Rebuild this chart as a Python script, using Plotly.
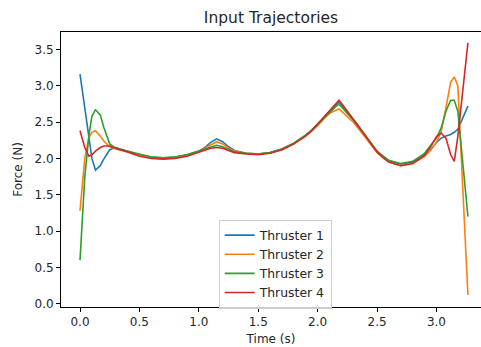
import plotly.graph_objects as go

time_s = [0.0, 0.04, 0.075, 0.1, 0.13, 0.17, 0.2, 0.25, 0.3, 0.35,
          0.4, 0.5, 0.6, 0.7, 0.8, 0.9, 1.0, 1.05, 1.1, 1.15,
          1.2, 1.25, 1.3, 1.4, 1.5, 1.6, 1.7, 1.8, 1.9, 1.95,
          2.0, 2.05, 2.1, 2.15, 2.18, 2.2, 2.25, 2.3, 2.4, 2.45,
          2.5, 2.55, 2.6, 2.7, 2.8, 2.9, 2.95, 3.0, 3.04, 3.08,
          3.12, 3.15, 3.18, 3.265]

thruster1 = [3.16, 2.72, 2.34, 2.0, 1.84, 1.90, 1.99, 2.12, 2.15, 2.13,
             2.10, 2.05, 2.02, 2.01, 2.02, 2.05, 2.10, 2.15, 2.22, 2.27,
             2.23, 2.16, 2.11, 2.07, 2.06, 2.08, 2.13, 2.21, 2.32, 2.39,
             2.47, 2.56, 2.65, 2.73, 2.78, 2.74, 2.64, 2.54, 2.32, 2.21,
             2.10, 2.03, 1.97, 1.92, 1.95, 2.05, 2.12, 2.22, 2.28, 2.31,
             2.33, 2.36, 2.40, 2.72]

thruster2 = [1.28, 2.00, 2.28, 2.36, 2.38, 2.31, 2.24, 2.16, 2.13, 2.11,
             2.09, 2.04, 2.01, 2.00, 2.01, 2.04, 2.09, 2.14, 2.19, 2.23,
             2.20, 2.14, 2.10, 2.07, 2.06, 2.08, 2.12, 2.20, 2.31, 2.38,
             2.45, 2.54, 2.62, 2.66, 2.68, 2.65, 2.58, 2.50, 2.29, 2.18,
             2.08, 2.01, 1.95, 1.90, 1.93, 2.03, 2.11, 2.22, 2.37, 2.70,
             3.05, 3.12, 3.00, 0.12]

thruster3 = [0.60, 1.74, 2.32, 2.58, 2.67, 2.60, 2.43, 2.20, 2.14, 2.12,
             2.10, 2.05, 2.02, 2.01, 2.02, 2.05, 2.10, 2.13, 2.16, 2.18,
             2.16, 2.12, 2.09, 2.07, 2.06, 2.08, 2.13, 2.21, 2.32, 2.39,
             2.47, 2.55, 2.64, 2.71, 2.75, 2.71, 2.62, 2.53, 2.31, 2.20,
             2.10, 2.03, 1.97, 1.93, 1.96, 2.07, 2.17, 2.28, 2.42, 2.65,
             2.80, 2.80, 2.65, 1.20]

thruster4 = [2.38, 2.15, 2.03, 2.05, 2.10, 2.15, 2.17, 2.17, 2.14, 2.12,
             2.09, 2.03, 2.00, 1.99, 2.00, 2.03, 2.08, 2.11, 2.14, 2.15,
             2.14, 2.11, 2.08, 2.06, 2.05, 2.07, 2.12, 2.20, 2.31, 2.38,
             2.47, 2.56, 2.65, 2.74, 2.80, 2.76, 2.65, 2.55, 2.32, 2.20,
             2.09, 2.01, 1.95, 1.90, 1.93, 2.04, 2.16, 2.30, 2.35, 2.28,
             2.05, 1.96, 2.30, 3.59]

series_names = ["Thruster 1", "Thruster 2", "Thruster 3", "Thruster 4"]
series_values = [thruster1, thruster2, thruster3, thruster4]
colors = ["#1f77b4", "#ff7f0e", "#2ca02c", "#d62728"]

x_ticks = [0.0, 0.5, 1.0, 1.5, 2.0, 2.5, 3.0]
y_ticks = [0.0, 0.5, 1.0, 1.5, 2.0, 2.5, 3.0, 3.5]

FONT = "DejaVu Sans"
TXT = "#262626"

fig = go.Figure()
for name, vals, col in zip(series_names, series_values, colors):
    fig.add_trace(go.Scatter(x=time_s, y=vals, mode="lines", name=name,
                             line=dict(color=col, width=1.6)))

fig.update_layout(
    width=481, height=347,
    margin=dict(l=61, r=0, t=32, b=40),
    paper_bgcolor="white", plot_bgcolor="white",
    font=dict(family=FONT, size=12, color=TXT),
    title=dict(text="Input Trajectories", x=(61 + 481) / 2 / 481, xanchor="center",
               xref="container", yref="container", y=1 - 18 / 347, yanchor="middle",
               font=dict(family=FONT, size=15.5, color=TXT)),
    showlegend=True,
    legend=dict(x=0.51, y=0.318, xanchor="center", yanchor="top",
                bgcolor="rgba(255,255,255,0.8)", bordercolor="#cccccc", borderwidth=1,
                font=dict(family=FONT, size=12.4, color=TXT),
                tracegroupgap=0, itemwidth=30),
)

fig.update_xaxes(range=[-0.16, 3.375], tickvals=x_ticks,
                 ticktext=[f"{v:.1f}" for v in x_ticks],
                 tickfont=dict(family=FONT, size=12, color=TXT),
                 showgrid=False, zeroline=False, showline=True, mirror=True,
                 linecolor="#000000", linewidth=1, ticks="outside", ticklen=4,
                 tickcolor="#000000", tickwidth=1,
                 title=dict(text="Time (s)", standoff=6, font=dict(family=FONT, size=12, color=TXT)))
fig.update_yaxes(range=[-0.045, 3.74], tickvals=y_ticks,
                 ticktext=[f"{v:.1f}" for v in y_ticks],
                 tickfont=dict(family=FONT, size=12, color=TXT),
                 showgrid=False, zeroline=False, showline=True, mirror=True,
                 linecolor="#000000", linewidth=1, ticks="outside", ticklen=4,
                 tickcolor="#000000", tickwidth=1,
                 title=dict(text="Force (N)", standoff=9, font=dict(family=FONT, size=12, color=TXT)))

fig.write_html("out.html")
